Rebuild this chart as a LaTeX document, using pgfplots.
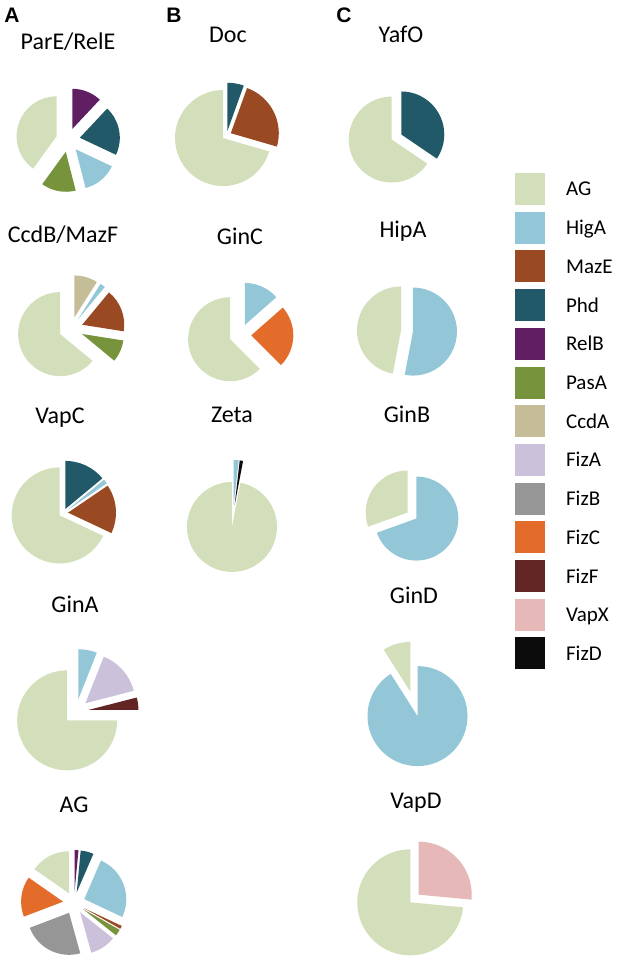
\documentclass[border=0pt]{standalone}
\usepackage{pgfplots}
\pgfplotsset{compat=1.18}
\usepackage{pgfplotstable}
\usepackage{fontspec}
\setmainfont{Carlito}
\newfontfamily\panelfont{Liberation Sans}

% slice colours, one per gene
\definecolor{cAG}{HTML}{D3DEBA}
\definecolor{cHigA}{HTML}{93C6D7}
\definecolor{cMazE}{HTML}{9A4A22}
\definecolor{cPhd}{HTML}{215968}
\definecolor{cRelB}{HTML}{601F62}
\definecolor{cPasA}{HTML}{77933C}
\definecolor{cCcdA}{HTML}{C4BD97}
\definecolor{cFizA}{HTML}{CCC1DA}
\definecolor{cFizB}{HTML}{969696}
\definecolor{cFizC}{HTML}{E46C2A}
\definecolor{cFizF}{HTML}{632523}
\definecolor{cVapX}{HTML}{E6B9B8}
\definecolor{cFizD}{HTML}{0C0C0C}

% one table per pie, slices clockwise from 12 o'clock
\pgfplotstableread{
gene value
RelB 12
Phd 20
HigA 14
PasA 14
AG 40
}\tparE
\pgfplotstableread{
gene value
CcdA 9
HigA 2
MazE 16.5
PasA 8.5
AG 64
}\tccdB
\pgfplotstableread{
gene value
Phd 14
HigA 1.5
MazE 16.5
AG 68
}\tvapC
\pgfplotstableread{
gene value
HigA 6
FizA 15
FizF 4
AG 75
}\tginA
\pgfplotstableread{
gene value
RelB 1.5
Phd 5
HigA 25.5
MazE 1.2
PasA 2.5
FizA 10
FizB 23.5
FizC 15.5
AG 15.3
}\tAG
\pgfplotstableread{
gene value
Phd 5.5
MazE 24
AG 70.5
}\tdoc
\pgfplotstableread{
gene value
HigA 13.5
FizC 24
AG 62.5
}\tginC
\pgfplotstableread{
gene value
HigA 1.8
FizD 1.2
AG 97
}\tzeta
\pgfplotstableread{
gene value
Phd 34.5
AG 65.5
}\tyafO
\pgfplotstableread{
gene value
HigA 53
AG 47
}\thipA
\pgfplotstableread{
gene value
HigA 69.5
AG 30.5
}\tginB
\pgfplotstableread{
gene value
HigA 91
AG 9
}\tginD
\pgfplotstableread{
gene value
VapX 26.5
AG 73.5
}\tvapD

% 1 axis unit = 1 px = 0.5pt
% #1 table, #2 cx, #3 cy, #4 radius, #5 explosion
\newcommand\drawpie[5]{%
  \pgfplotstablegetrowsof{#1}%
  \pgfmathtruncatemacro\nrows{\pgfplotsretval-1}%
  \def\tot{0}%
  \pgfplotsforeachungrouped \ii in {0,...,\nrows}{%
    \pgfplotstablegetelem{\ii}{value}\of#1%
    \pgfmathsetmacro\tot{\tot+\pgfplotsretval}}%
  \def\cum{0}%
  \pgfmathsetmacro\rr{#4*0.5}%
  \pgfmathsetmacro\dd{#5*0.5}%
  \pgfplotsforeachungrouped \ii in {0,...,\nrows}{%
    \pgfplotstablegetelem{\ii}{gene}\of#1\edef\gn{\pgfplotsretval}%
    \pgfplotstablegetelem{\ii}{value}\of#1\edef\vv{\pgfplotsretval}%
    \pgfmathsetmacro\aS{90-(\cum/\tot)*360}%
    \pgfmathsetmacro\cum{\cum+\vv}%
    \pgfmathsetmacro\aE{90-(\cum/\tot)*360}%
    \pgfmathsetmacro\aM{(\aS+\aE)/2}%
    \fill[fill=c\gn] ([shift={(\aM:\dd pt)}]axis cs:#2,#3) -- ++(\aS:\rr pt)
      arc[start angle=\aS, end angle=\aE, radius=\rr pt] -- cycle;
  }%
}

\begin{document}
\begin{tikzpicture}
\begin{axis}[
    width=304pt, height=481pt,
    scale only axis,
    xmin=0, xmax=608, ymin=0, ymax=962,
    y dir=reverse,
    hide axis,
    clip=false,
    every node/.style={inner sep=0pt},
]
\path (axis cs:0,0) rectangle (axis cs:608,962);

\pgfplotsextra{%
  \drawpie{\tparE}{68}{140}{40}{12}%
  \drawpie{\tccdB}{71}{329}{42}{12}%
  \drawpie{\tvapC}{63.5}{513}{48}{4.5}%
  \drawpie{\tginA}{76}{711.5}{50}{12.5}%
  \drawpie{\tAG}{74}{903}{42}{11}%
  \drawpie{\tdoc}{226.7}{135.3}{48}{4.6}%
  \drawpie{\tginC}{240.3}{335}{42}{11}%
  \drawpie{\tzeta}{233}{516}{45}{11}%
  \drawpie{\tyafO}{396.5}{137}{43}{5.4}%
  \drawpie{\thipA}{407}{331}{44}{6}%
  \drawpie{\tginB}{412}{515.5}{42}{5.3}%
  \drawpie{\tginD}{414}{704}{50}{12.6}%
  \drawpie{\tvapD}{414.5}{898.5}{53}{5.7}%
  % legend
  \foreach \gn [count=\k from 0] in {AG,HigA,MazE,Phd,RelB,PasA,CcdA,FizA,FizB,FizC,FizF,VapX,FizD}{%
    \pgfmathsetmacro\ya{189+38.7*\k-16}%
    \pgfmathsetmacro\yb{189+38.7*\k+16}%
    \pgfmathsetmacro\yt{189+38.7*\k+7}%
    \fill[fill=c\gn] (axis cs:515,\ya) rectangle (axis cs:545,\yb);
    \node[anchor=base west, font=\fontsize{10.5}{12}\selectfont] at (axis cs:559,\yt) {\gn};
  }%
}

% pie titles
\begin{scope}[every node/.style={anchor=base, inner sep=0pt, font=\fontsize{12}{14}\selectfont}]
\node at (axis cs:68,50) {ParE/RelE};
\node at (axis cs:63,243) {CcdB/MazF};
\node at (axis cs:60,423) {VapC};
\node at (axis cs:75,612) {GinA};
\node at (axis cs:74,812) {AG};
\node at (axis cs:228,43) {Doc};
\node at (axis cs:240,245) {GinC};
\node at (axis cs:232,422) {Zeta};
\node at (axis cs:401,43) {YafO};
\node at (axis cs:403,238) {HipA};
\node at (axis cs:407,422) {GinB};
\node at (axis cs:414,603) {GinD};
\node at (axis cs:416,808) {VapD};
\end{scope}

% panel letters
\begin{scope}[every node/.style={anchor=base west, inner sep=0pt, font=\panelfont\bfseries\fontsize{10.5}{12}\selectfont}]
\node at (axis cs:4,23) {A};
\node at (axis cs:166,23) {B};
\node at (axis cs:336,23) {C};
\end{scope}
\end{axis}
\end{tikzpicture}
\end{document}
